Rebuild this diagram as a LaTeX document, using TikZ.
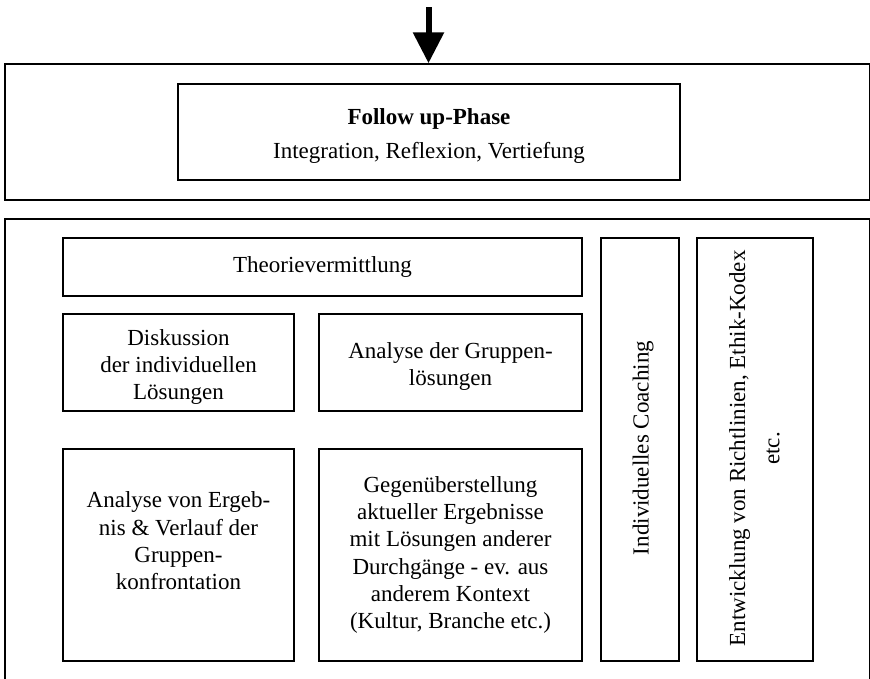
\documentclass[tikz,border=0pt]{standalone}
\usepackage{fontspec}
\setmainfont{Liberation Serif}
\usetikzlibrary{arrows.meta}

\begin{document}
\begin{tikzpicture}[x=1pt, y=-1pt,
    box/.style={draw, line width=1.5pt, inner sep=0pt, align=center,
        font=\fontsize{23}{27.3}\selectfont},
    txt/.style={inner sep=0pt, align=center, font=\fontsize{23}{27.3}\selectfont},
    bigarrow/.style={line width=6pt, -{Triangle[width=30pt, length=31pt]}}]
    % Rahmen
    \useasboundingbox (0, 0) rectangle (870, 678);
    \clip (0, 0) rectangle (870, 678);

    % Follow up-Phase
    \node[box, minimum width=865, minimum height=136] (topbox) at (437.5, 132) {};
    \node[box, minimum width=502, minimum height=96] (follow) at (429, 132) {};
    \node[txt] (followtext) at (429, 136)
        {\textbf{Follow up-Phase}\\[6pt] Integration, Reflexion, Vertiefung};

    % Pfeil von oben
    \coordinate (arrowstart) at (428.5, 7);
    \draw[bigarrow] (arrowstart) -- (arrowstart |- topbox.north);

    % untere Gruppe
    \node[box, minimum width=865, minimum height=481] (bottombox) at (437.5, 459.5) {};

    \node[box, minimum width=519, minimum height=58] (theorie) at (322.5, 267) {Theorievermittlung};

    \node[box, minimum width=231, minimum height=97] (diskussion) at (178.5, 362.5) {};
    \node[txt] (diskussiontext) at (178.5, 367)
        {Diskussion\\ der individuellen\\ Lösungen};
    \node[box, minimum width=263, minimum height=97] (gruppen) at (450.5, 362.5) {};
    \node[txt] (gruppentext) at (450.5, 366.5)
        {Analyse der Gruppen-\\ lösungen};

    \node[box, minimum width=231, minimum height=212] (ergebnis) at (178.5, 555) {};
    \node[txt] (ergebnistext) at (178.5, 541)
        {Analyse von Ergeb-\\ nis \& Verlauf der\\ Gruppen-\\ konfrontation};
    \node[box, minimum width=263, minimum height=212] (gegen) at (450.5, 555)
        {Gegenüberstellung\\ aktueller Ergebnisse\\ mit Lösungen anderer\\
         Durchgänge - ev. aus\\ anderem Kontext\\ (Kultur, Branche etc.)};

    % senkrechte Spalten
    \node[box, minimum width=78, minimum height=423] (coaching) at (640, 449.5) {};
    \node[txt, rotate=90] (coachingtext) at (643, 448) {Individuelles Coaching};
    \node[box, minimum width=116, minimum height=423] (richtlinien) at (755, 449.5) {};
    \node[txt, rotate=90] (richtlinientext) at (754.5, 448.5)
        {Entwicklung von Richtlinien, Ethik-Kodex\\[7pt] etc.};
\end{tikzpicture}
\end{document}
